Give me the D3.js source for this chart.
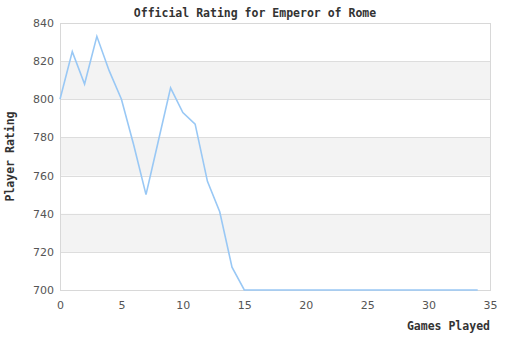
<!DOCTYPE html>
<html>
<head>
<meta charset="utf-8">
<script src="https://cdn.jsdelivr.net/npm/d3@7"></script>
<style>
  body { margin: 0; background: #fff; }
  svg { display: block; }
</style>
</head>
<body>
<div id="chart"></div>
<script>
// Rating after each game played
const games = [0, 1, 2, 3, 4, 5, 6, 7, 8, 9, 10, 11, 12, 13, 14, 15, 16, 17, 18, 19, 20,
  21, 22, 23, 24, 25, 26, 27, 28, 29, 30, 31, 32, 33, 34]
const ratings = [800, 825, 808, 833, 815, 800, 776, 750, 778, 806, 793, 787, 757, 741, 712, 700,
  700, 700, 700, 700, 700, 700, 700, 700, 700, 700, 700, 700, 700, 700, 700, 700, 700, 700, 700]
const xTicks = [0, 5, 10, 15, 20, 25, 30, 35]
const yTicks = [700, 720, 740, 760, 780, 800, 820, 840]
// shaded horizontal bands
const bands = [[720, 740], [760, 780], [800, 820]]

const width = 510
const height = 340
const margin = { top: 23, right: 20, bottom: 50, left: 60 }
const chartWidth = width - margin.left - margin.right
const chartHeight = height - margin.top - margin.bottom

const svg = d3.select("#chart")
  .append("svg")
  .attr("width", width)
  .attr("height", height)

const g = svg.append("g")
  .attr("transform", `translate(${margin.left},${margin.top})`)

const xScale = d3.scaleLinear().domain([0, 35]).range([0, chartWidth])
const yScale = d3.scaleLinear().domain([700, 840]).range([chartHeight, 0])

// Alternating bands
g.append("g")
  .selectAll("rect")
  .data(bands)
  .join("rect")
  .attr("x", 0)
  .attr("width", chartWidth)
  .attr("y", d => yScale(d[1]))
  .attr("height", d => yScale(d[0]) - yScale(d[1]))
  .attr("fill", "#f3f3f3")

// Grid lines
g.append("g")
  .selectAll("line")
  .data(yTicks)
  .join("line")
  .attr("x1", 0)
  .attr("x2", chartWidth)
  .attr("y1", d => Math.round(yScale(d)) + 0.5)
  .attr("y2", d => Math.round(yScale(d)) + 0.5)
  .attr("stroke", "#dddddd")
  .attr("stroke-width", 1)

// Plot frame
g.append("rect")
  .attr("x", 0.5)
  .attr("y", 0.5)
  .attr("width", chartWidth)
  .attr("height", chartHeight)
  .attr("fill", "none")
  .attr("stroke", "#d8d8d8")

// Axes
const tickFont = "'DejaVu Sans', Verdana, sans-serif"

const yAxis = g.append("g")
  .call(d3.axisLeft(yScale).tickValues(yTicks).tickSize(0).tickPadding(6))
yAxis.select(".domain").remove()
yAxis.selectAll("text")
  .attr("fill", "#555")
  .style("font-family", tickFont)
  .style("font-size", "11px")

const xAxis = g.append("g")
  .attr("transform", `translate(0,${chartHeight})`)
  .call(d3.axisBottom(xScale).tickValues(xTicks).tickSize(0).tickPadding(11))
xAxis.select(".domain").remove()
xAxis.selectAll("text")
  .attr("fill", "#555")
  .style("font-family", tickFont)
  .style("font-size", "11px")

// Rating line
const line = d3.line()
  .x((d, i) => xScale(games[i]))
  .y(d => yScale(d))

g.append("path")
  .datum(ratings)
  .attr("fill", "none")
  .attr("stroke", "#99c8f5")
  .attr("stroke-width", 1.6)
  .attr("d", line)

// Titles
const labelFont = "'DejaVu Sans Mono', 'Liberation Mono', monospace"

svg.append("text")
  .attr("x", 255)
  .attr("y", 17)
  .attr("text-anchor", "middle")
  .attr("font-family", labelFont)
  .attr("font-weight", "bold")
  .attr("font-size", "11.5px")
  .attr("fill", "#333")
  .text("Official Rating for Emperor of Rome")

svg.append("text")
  .attr("transform", `translate(14,${margin.top + chartHeight / 2}) rotate(-90)`)
  .attr("text-anchor", "middle")
  .attr("font-family", labelFont)
  .attr("font-weight", "bold")
  .attr("font-size", "11.5px")
  .attr("fill", "#333")
  .text("Player Rating")

svg.append("text")
  .attr("x", 490)
  .attr("y", 330)
  .attr("text-anchor", "end")
  .attr("font-family", labelFont)
  .attr("font-weight", "bold")
  .attr("font-size", "11.5px")
  .attr("fill", "#333")
  .text("Games Played")
</script>
</body>
</html>
